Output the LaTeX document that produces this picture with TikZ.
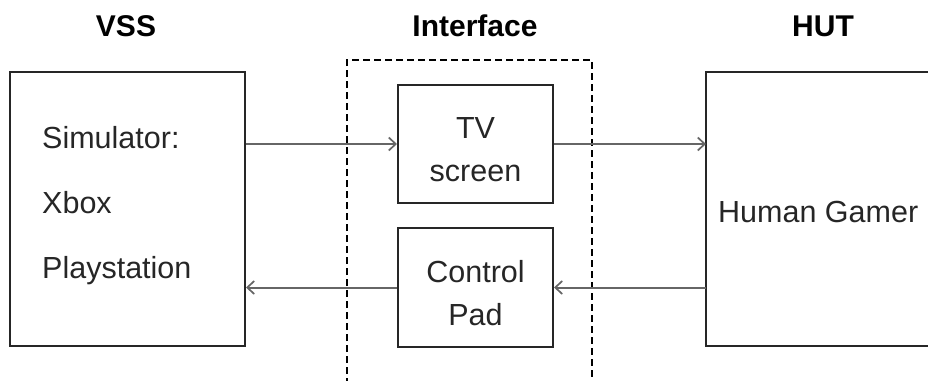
\documentclass[tikz,border=0pt]{standalone}
\usepackage{fontspec}
\setmainfont{Liberation Sans}
\usetikzlibrary{arrows.meta}
\begin{document}
\begin{tikzpicture}[x=1pt,y=-1pt,
  box/.style={draw=black!85,line width=2pt,inner sep=0pt},
  lbl/.style={font=\fontsize{30.5}{36}\selectfont,text=black!85,inner sep=0pt},
  head/.style={font=\fontsize{30}{34}\selectfont\bfseries,inner sep=0pt,anchor=base},
  arr/.style={draw=black!60,line width=2pt,-{Straight Barb[length=7pt,width=13pt,line width=1.7pt]}},
  dashbox/.style={draw=black,line width=1.5pt,dash pattern=on 7pt off 4pt}]
\useasboundingbox (0,0) rectangle (928,380);
% headings
\node[head] (hvss) at (126,36) {VSS};
\node[head] (hint) at (475,36) {Interface};
\node[head] (hhut) at (823,36) {HUT};
% VSS box
\node[box,minimum width=235pt,minimum height=274pt] (vss) at (127.5,209) {};
\node[lbl,anchor=base west] (sim) at (42,148) {Simulator:};
\node[lbl,anchor=base west] (xbox) at (42,213) {Xbox};
\node[lbl,anchor=base west] (ps) at (42,278) {Playstation};
% Interface
\draw[dashbox] (347,385) -- (347,60) -- (592,60) -- (592,385);
\node[box,minimum width=155pt,minimum height=118pt] (tv) at (475.5,144) {};
\node[lbl,anchor=base] (tvt) at (475.5,138) {TV};
\node[lbl,anchor=base] (tvs) at (475.5,181) {screen};
\node[box,minimum width=155pt,minimum height=119pt] (cp) at (475.5,287.5) {};
\node[lbl,anchor=base] (cpt) at (475.5,282) {Control};
\node[lbl,anchor=base] (cpp) at (475.5,325) {Pad};
% HUT box (cut off at the right)
\coordinate (hutTR) at (935,72);
\coordinate (hutTL) at (706,72);
\coordinate (hutBL) at (706,346);
\coordinate (hutBR) at (935,346);
\draw[draw=black!85,line width=2pt] (hutTR) -- (hutTL) -- (hutBL) -- (hutBR);
\node[lbl,anchor=base west] (hg) at (718,222) {Human Gamer};
% connectors
\draw[arr] (vss.east |- tv.west) -- (tv.west);
\draw[arr] (tv.east) -- (hutTL |- tv.east);
\draw[arr] (hutTL |- cp.east) -- (cp.east);
\draw[arr] (cp.west) -- (vss.east |- cp.west);
\end{tikzpicture}
\end{document}
